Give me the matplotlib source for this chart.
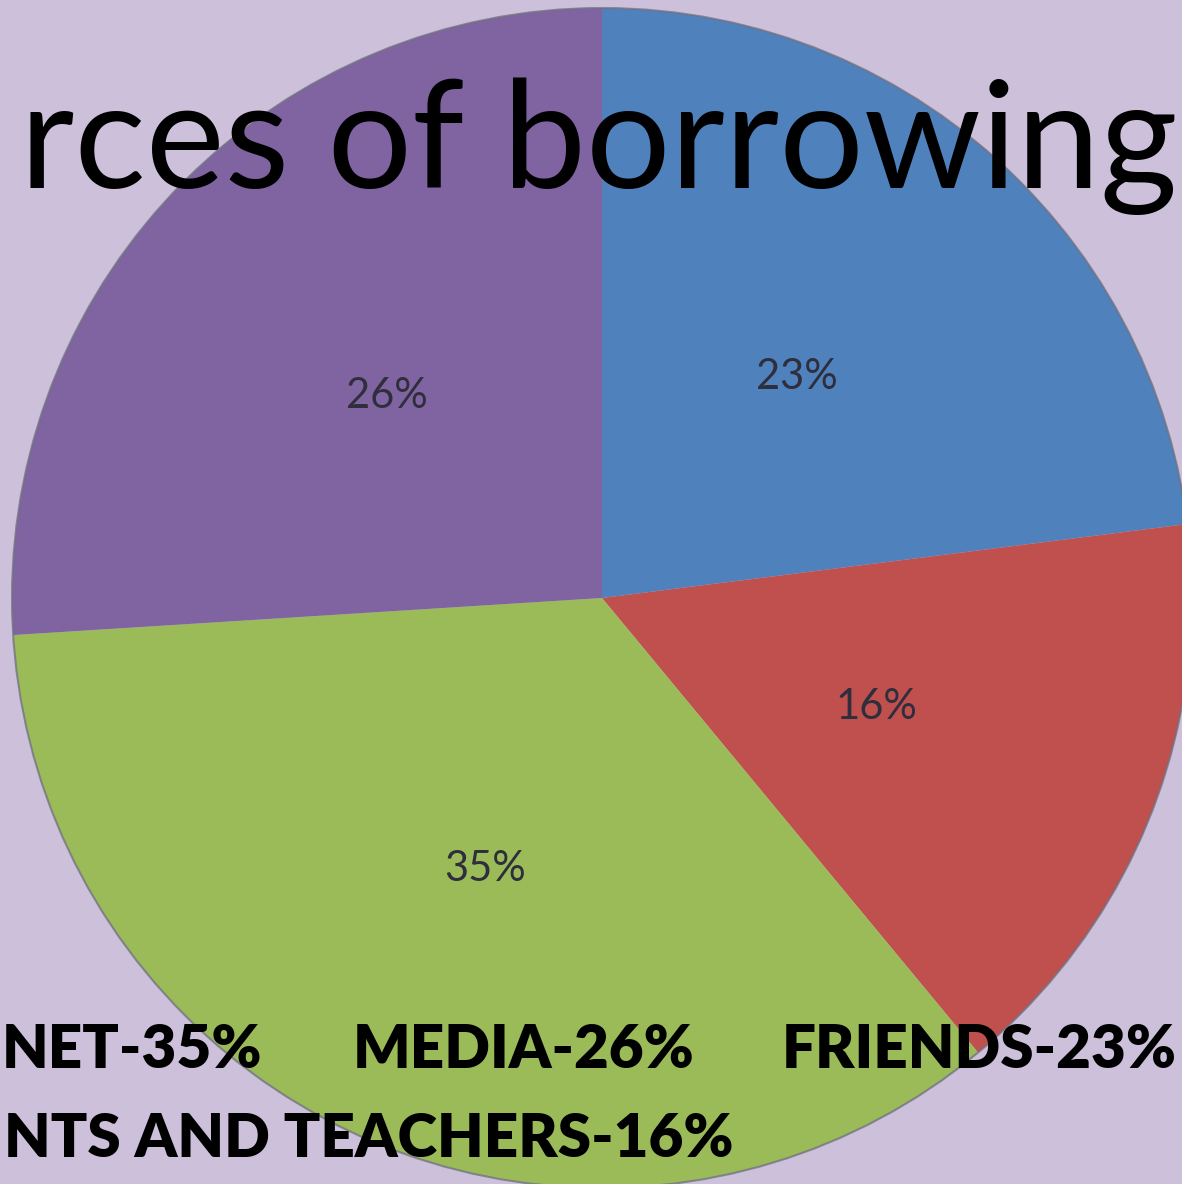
import matplotlib
matplotlib.use("Agg")
import matplotlib.pyplot as plt
from matplotlib.patches import Circle

# ---- data -------------------------------------------------------------
categories = ["FRIENDS", "PARENTS AND TEACHERS", "INTERNET", "MEDIA"]
shares = [23, 16, 35, 26]
slice_colors = ["#4F81BD", "#C0504D", "#9BBB59", "#8064A2"]
title_text = "rces of borrowing"
caption_line1 = ["NET-35%", "MEDIA-26%", "FRIENDS-23%"]
caption_line2 = "NTS AND TEACHERS-16%"

# ---- canvas (pixel coordinates, origin bottom-left) ---------------------
W, H = 1182, 1184
BG = "#CCC0DA"
FONT = "Lato"

fig = plt.figure(figsize=(W / 100, H / 100), dpi=100, facecolor=BG)
ax = fig.add_axes([0, 0, 1, 1])
ax.set_facecolor(BG)

cx, cy, R = 602, H - 598, 590

wedges, _, autotexts = ax.pie(
    shares,
    colors=slice_colors,
    startangle=90,
    counterclock=False,
    center=(cx, cy),
    radius=R,
    autopct="%.0f%%",
    pctdistance=0.5,
    wedgeprops=dict(linewidth=0),
    textprops=dict(fontsize=30, family=FONT, color="#2E2E3C"),
)
ax.add_patch(Circle((cx, cy), R, fill=False, edgecolor="#707080",
                    linewidth=1.5, alpha=0.75, zorder=3))

ax.set_xlim(0, W)
ax.set_ylim(0, H)
ax.set_aspect("equal")
ax.set_axis_off()

fig.canvas.draw()
renderer = fig.canvas.get_renderer()


def text_width(s, size, weight="normal"):
    t = ax.text(0, 0, s, fontsize=size, family=FONT, weight=weight)
    w = t.get_window_extent(renderer).width
    t.remove()
    return w


# ---- title across the top ---------------------------------------------------
title_left, title_right = 20, 1178
fs_title = 100 * (title_right - title_left) / text_width(title_text, 100)
ax.text(title_left, H - 188, title_text, fontsize=fs_title,
        family=FONT, color="black", ha="left", va="baseline", zorder=5)

# ---- caption lines ------------------------------------------------------------
CAP_WEIGHT = "heavy"
fs_cap = min(100 * 410 / text_width(caption_line1[2], 100, CAP_WEIGHT),
             100 * 729 / text_width(caption_line2, 100, CAP_WEIGHT))
cap_kw = dict(fontsize=fs_cap, family=FONT, weight=CAP_WEIGHT, color="black",
              va="baseline", zorder=5)
ax.text(262, H - 1068, caption_line1[0], ha="right", **cap_kw)
ax.text(353, H - 1068, caption_line1[1], ha="left", **cap_kw)
ax.text(1177, H - 1068, caption_line1[2], ha="right", **cap_kw)
ax.text(733, H - 1157, caption_line2, ha="right", **cap_kw)

fig.savefig("out.png", dpi=100, facecolor=BG)
